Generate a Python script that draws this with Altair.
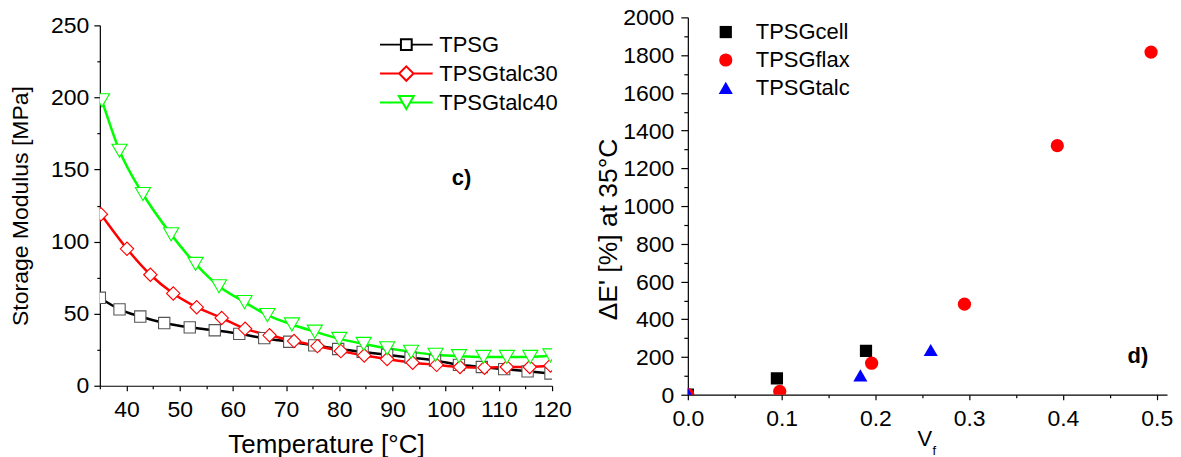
import altair as alt
import pandas as pd

FONT = "Liberation Sans"

# ---------------- Panel c) : storage modulus vs temperature ----------------
series_c = ["TPSG", "TPSGtalc30", "TPSGtalc40"]
line_colors = ["#000000", "#ff0000", "#00ff00"]
marker_strokes = ["#555555", "#ff0000", "#00ff00"]
marker_shapes = ["square", "diamond", "triangle-down"]
marker_sizes = [128, 230, 260]

t_tpsg = [35.0, 38.7, 42.6, 47.1, 51.9, 56.6, 61.2, 65.9, 70.6, 75.3,
          79.8, 84.4, 89.0, 93.4, 98.0, 102.5, 106.8, 111.0, 115.4, 119.7]
e_tpsg = [61, 53, 48, 43.5, 40.5, 38.5, 36, 33, 30.5, 28,
          25.5, 23.5, 21.5, 19.5, 17.5, 14.5, 13, 11.5, 10, 8.5]
t_t30 = [35.2, 40.1, 44.5, 48.8, 53.2, 57.9, 62.3, 66.9, 71.5, 75.9,
         80.3, 84.7, 89.0, 93.8, 98.3, 102.7, 107.3, 111.5, 115.8, 119.7]
e_t30 = [119, 95, 77, 64, 54.5, 47, 39.5, 35, 31, 27.5,
         24, 21, 18.5, 16, 14.5, 13, 12.5, 13, 13, 14]
t_t40 = [35.4, 38.7, 43.1, 48.4, 53.0, 57.4, 62.2, 66.5, 71.1, 75.4,
         80.0, 84.6, 89.0, 93.5, 98.1, 102.5, 107.1, 111.5, 115.9, 119.7]
e_t40 = [198, 163, 133, 105, 84.5, 69, 58, 49, 42.5, 37.5,
         32.5, 29, 26, 23.5, 21.5, 20.5, 20, 20, 20, 21]

label_c = ["c)"]
label_c_t = [103]
label_c_e = [144]

# ---------------- Panel d) : delta E' vs fibre volume fraction ----------------
series_d = ["TPSGcell", "TPSGflax", "TPSGtalc"]
scatter_colors = ["#000000", "#ff0000", "#0000ff"]
scatter_shapes = ["square", "circle", "triangle-up"]
scatter_sizes = [150, 200, 220]

vf_cell = [0.0, 0.095, 0.19]
de_cell = [0, 87, 232]
vf_flax = [0.0, 0.098, 0.196, 0.295, 0.394, 0.494]
de_flax = [0, 18, 167, 480, 1320, 1816]
vf_talc = [0.0, 0.184, 0.259]
de_talc = [5, 102, 237]

label_d = ["d)"]
label_d_vf = [0.48]
label_d_de = [206]

# ---------------- data frames ----------------
df_c = pd.DataFrame({
    "T": t_tpsg + t_t30 + t_t40,
    "E": e_tpsg + e_t30 + e_t40,
    "series": [series_c[0]] * len(t_tpsg) + [series_c[1]] * len(t_t30) + [series_c[2]] * len(t_t40),
})
df_d = pd.DataFrame({
    "vf": vf_cell + vf_flax + vf_talc,
    "de": de_cell + de_flax + de_talc,
    "series": [series_d[0]] * len(vf_cell) + [series_d[1]] * len(vf_flax) + [series_d[2]] * len(vf_talc),
})
df_lc = pd.DataFrame({"T": label_c_t, "E": label_c_e, "txt": label_c})
df_ld = pd.DataFrame({"vf": label_d_vf, "de": label_d_de, "txt": label_d})


def cond_size(test, major, minor):
    return {"condition": {"test": test, "value": major}, "value": minor}


LBL = 23

# ---------------- axes ----------------
axis_xc = alt.Axis(
    values=list(range(35, 121, 5)),
    labelExpr="datum.value % 10 == 0 ? datum.label : ''",
    title="Temperature [°C]", titleFontSize=26, titleBaseline="alphabetic",
    titleX=226.5, titleY=67,
    tickSize=cond_size("datum.value % 10 == 0", 5, 3),
    labelPadding=8, labelFontSize=LBL, labelFlush=False, labelOverlap=False,
)
axis_yc = alt.Axis(
    values=list(range(0, 251, 25)), format="d",
    labelExpr="datum.value % 50 == 0 ? datum.label : ''",
    title="Storage Modulus [MPa]", titleFontSize=23, titleBaseline="alphabetic",
    titleX=-72, titleY=188.5,
    tickSize=cond_size("datum.value % 50 == 0", 6, 3),
    labelPadding=5, labelFontSize=LBL, labelOverlap=False,
    labelBaseline="top", labelOffset=-11,
)
axis_xd = alt.Axis(
    values=[round(i * 0.05, 2) for i in range(11)],
    format=".1f",
    labelExpr="round(datum.value * 100) % 10 == 0 ? datum.label : ''",
    title="V", titleFontSize=22, titleBaseline="alphabetic",
    titleX=237, titleY=51,
    tickSize=cond_size("round(datum.value * 100) % 10 == 0", 5, 3),
    labelPadding=8, labelFontSize=LBL, labelFlush=False, labelOverlap=False,
)
axis_yd = alt.Axis(
    values=list(range(0, 2001, 100)), format="d",
    labelExpr="datum.value % 200 == 0 ? datum.label : ''",
    title="ΔE' [%] at 35°C", titleFontSize=26.5, titleBaseline="alphabetic",
    titleX=-71, titleY=212,
    tickSize=cond_size("datum.value % 200 == 0", 7, 4),
    labelPadding=7, labelFontSize=LBL, labelOverlap=False,
    labelBaseline="top", labelOffset=-10.5,
)

# ---------------- panel c ----------------
# legend glyphs: a line segment through each hollow marker
p_sq = "M-4.4,0H-0.9M0.9,0H4.4M-0.9,-0.9H0.9V0.9H-0.9Z"
p_di = "M-4.4,0H-1.2M1.2,0H4.4M-1.2,0L0,-1.2L1.2,0L0,1.2Z"
p_tr = "M-4.4,0H-0.62M0.62,0H4.4M-1.25,-1.08H1.25L0,1.08Z"

legend_c = alt.Legend(
    title=None, orient="none", legendX=296, legendY=16.3,
    labelFontSize=22, labelFont=FONT, labelColor="black",
    symbolSize=144, labelOffset=22, rowPadding=6, padding=0,
    symbolStrokeWidth=2, symbolFillColor="white", symbolOpacity=1,
)

x_c = alt.X("T:Q", scale=alt.Scale(domain=[35, 120], nice=False, zero=False), axis=axis_xc)
y_c = alt.Y("E:Q", scale=alt.Scale(domain=[0, 250], nice=False, range=[369, 8]), axis=axis_yc)

lines_c = alt.Chart(df_c).mark_line(strokeWidth=2.5, interpolate="monotone", clip=True).encode(
    x=x_c, y=y_c,
    color=alt.Color("series:N", scale=alt.Scale(domain=series_c, range=line_colors), legend=None),
)
points_c = alt.Chart(df_c).mark_point(fill="white", filled=False, strokeWidth=1.1, opacity=1, clip=True).encode(
    x=x_c, y=y_c,
    stroke=alt.Stroke("series:N", scale=alt.Scale(domain=series_c, range=marker_strokes), legend=None),
    shape=alt.Shape("series:N", scale=alt.Scale(domain=series_c, range=marker_shapes), legend=None),
    size=alt.Size("series:N", scale=alt.Scale(domain=series_c, range=marker_sizes), legend=None),
)
# legend-only layer (no rows drawn): its own scales hold the line+marker glyphs
legend_layer_c = alt.Chart(df_c).transform_filter("false").mark_point(
    filled=False, strokeWidth=2, opacity=1
).encode(
    x=x_c, y=y_c,
    color=alt.Color("series:N", scale=alt.Scale(domain=series_c, range=line_colors), legend=legend_c),
    shape=alt.Shape("series:N", scale=alt.Scale(domain=series_c, range=[p_sq, p_di, p_tr]), legend=legend_c),
)
text_c = alt.Chart(df_lc).mark_text(fontSize=22, fontWeight="bold", font=FONT, color="black").encode(
    x=x_c, y=y_c, text="txt:N"
)
left = (
    alt.layer(lines_c, points_c, legend_layer_c, text_c)
    .resolve_scale(shape="independent", color="independent", stroke="independent", size="independent")
    .resolve_legend(shape="independent", color="independent")
    .properties(width=453, height=369)
)

# ---------------- panel d ----------------
legend_d = alt.Legend(
    title=None, orient="none", legendX=27, legendY=3.7,
    labelFontSize=22, labelFont=FONT, labelColor="black",
    labelOffset=19, rowPadding=6, padding=0, symbolOpacity=1,
)
x_d = alt.X("vf:Q", scale=alt.Scale(domain=[0, 0.511], nice=False), axis=axis_xd)
y_d = alt.Y("de:Q", scale=alt.Scale(domain=[0, 2000], nice=False), axis=axis_yd)

scatter_d = alt.Chart(df_d).mark_point(filled=True, opacity=1, clip=True).encode(
    x=x_d, y=y_d,
    color=alt.Color("series:N", scale=alt.Scale(domain=series_d, range=scatter_colors), legend=legend_d),
    shape=alt.Shape("series:N", scale=alt.Scale(domain=series_d, range=scatter_shapes), legend=legend_d),
    size=alt.Size("series:N", scale=alt.Scale(domain=series_d, range=scatter_sizes), legend=legend_d),
)
text_d = alt.Chart(df_ld).mark_text(fontSize=22, fontWeight="bold", font=FONT, color="black").encode(
    x=x_d, y=y_d, text="txt:N"
)
sub_f = alt.Chart(pd.DataFrame({"txt": ["f"]})).mark_text(
    fontSize=13, font=FONT, color="black", baseline="alphabetic", align="center"
).encode(x=alt.value(247), y=alt.value(438), text="txt:N")

right = alt.layer(scatter_d, text_d, sub_f).properties(width=480, height=378)

chart = (
    alt.hconcat(left, right, spacing=136, bounds="flush")
    .resolve_scale(color="independent", shape="independent", size="independent",
                   stroke="independent", x="independent", y="independent")
    .resolve_legend(color="independent", shape="independent", size="independent")
    .properties(padding={"left": 2, "top": -2, "right": 0, "bottom": 0})
    .configure(font=FONT)
    .configure_view(stroke=None)
    .configure_axis(
        grid=False, domainColor="black", domainWidth=1.2, tickColor="black", tickWidth=1.2,
        labelColor="black", titleColor="black", labelFont=FONT, titleFont=FONT,
        titleFontWeight="normal",
    )
)

chart.save("out.html", embed_options={"renderer": "svg", "actions": False})
